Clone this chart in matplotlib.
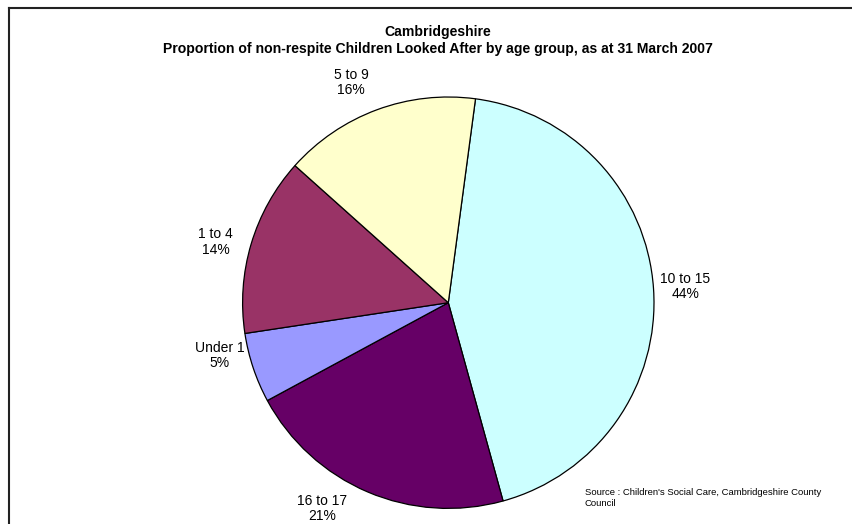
import numpy as np
import matplotlib.pyplot as plt
from matplotlib.lines import Line2D

plt.rcParams['font.family'] = ['Liberation Sans', 'DejaVu Sans']

# age groups, clockwise from just right of 12 o'clock
groups = ['10 to 15', '16 to 17', 'Under 1', '1 to 4', '5 to 9']
shares = [43.6, 21.4, 5.5, 14.0, 15.5]
pct_labels = ['44%', '21%', '5%', '14%', '16%']
colors = ['#CCFFFF', '#660066', '#9999FF', '#993366', '#FFFFCC']

# label placement tweaks (angle shift in degrees, distance factor)
label_shift = [0.0, -8.5, -5.5, 2.0, 3.5]
label_dist = [1.155, 1.175, 1.14, 1.17, 1.17]

W, H = 853, 524
fig = plt.figure(figsize=(W / 100, H / 100), dpi=100)
ax = fig.add_axes([0, 0, 1, 1])

cx, cy, r = 448.3, H - 302.7, 205.7
wedges, _ = ax.pie(shares, colors=colors, startangle=82.4, counterclock=False,
                   center=(cx, cy), radius=r, frame=True,
                   wedgeprops=dict(edgecolor='black', linewidth=0.9))
ax.set_xlim(0, W)
ax.set_ylim(0, H)
ax.set_aspect('equal')
ax.axis('off')

for w, g, p, sh, d in zip(wedges, groups, pct_labels, label_shift, label_dist):
    mid = np.deg2rad((w.theta1 + w.theta2) / 2 + sh)
    ax.text(cx + r * d * np.cos(mid), cy + r * d * np.sin(mid), f'{g}\n{p}',
            ha='center', va='center', fontsize=10, linespacing=1.15)

fig.text(438 / W, 1 - 36 / H, 'Cambridgeshire', ha='center', va='baseline',
         fontsize=10.1, fontweight='bold')
fig.text(438 / W, 1 - 53 / H,
         'Proportion of non-respite Children Looked After by age group, as at 31 March 2007',
         ha='center', va='baseline', fontsize=10.1, fontweight='bold')

fig.text(585 / W, 1 - 498 / H, "Source : Children's Social Care, Cambridgeshire County\nCouncil",
         ha='left', va='center', fontsize=6.8, linespacing=1.25)

# chart frame (cut off on the right and bottom)
fig.add_artist(Line2D([8.5 / W, 8.5 / W], [0, 1 - 8 / H], transform=fig.transFigure,
                      color='#222222', linewidth=1.5))
fig.add_artist(Line2D([8.5 / W, 1], [1 - 8 / H, 1 - 8 / H], transform=fig.transFigure,
                      color='#222222', linewidth=1.5))

fig.savefig('out.png', dpi=100)
